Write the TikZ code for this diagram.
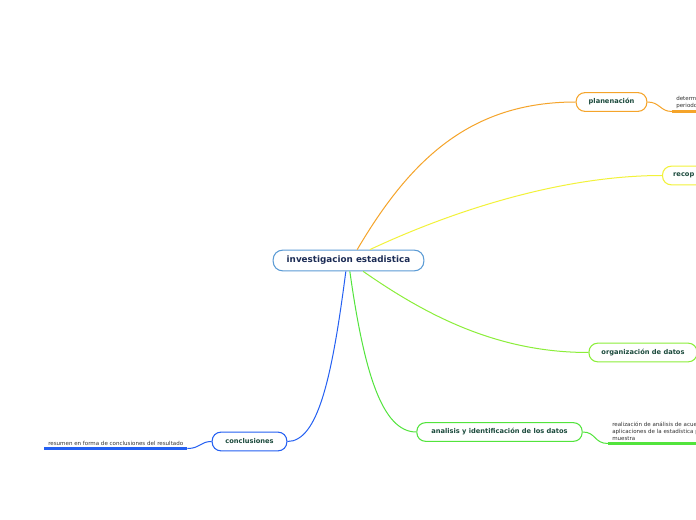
\documentclass[tikz,border=0pt]{standalone}
\usepackage{fontspec}
\setmainfont{DejaVu Sans}
\usepackage{tikz}
\usetikzlibrary{positioning}
\definecolor{rootline}{HTML}{5B9BD5}
\definecolor{rootink}{HTML}{1C2C55}
\definecolor{topink}{HTML}{1B4A3C}
\definecolor{noteink}{HTML}{333333}
\definecolor{cplan}{HTML}{F5A42A}
\definecolor{crecop}{HTML}{F2F23A}
\definecolor{corg}{HTML}{8BEE3A}
\definecolor{cana}{HTML}{52E43C}
\definecolor{cconc}{HTML}{2460F2}
\tikzset{
  root/.style={draw=rootline, line width=0.8pt, rounded corners=7pt, fill=white, text=rootink, font=\fontsize{6.6}{7.5}\selectfont\bfseries, minimum height=15.5pt, inner xsep=0pt},
  topic/.style={draw=#1, line width=0.8pt, rounded corners=6.5pt, fill=white, text=topink, font=\fontsize{5}{6}\selectfont\bfseries, minimum height=14pt, inner xsep=0pt},
  note/.style={anchor=south west, align=left, text=noteink, font=\fontsize{4.15}{5.3}\selectfont, inner xsep=3pt, inner ysep=2pt},
  link/.style={draw=#1, line width=0.75pt},
  uline/.style={draw=#1, line width=1.6pt}
}
\begin{document}
\begin{tikzpicture}[x=0.75pt, y=-0.75pt]
\useasboundingbox (0,0) rectangle (696,520);
\clip (0,0) rectangle (696,520);
\fill[white] (0,0) rectangle (696,520);

% main topics
\node[root, minimum width=113pt] (inv) at (348.5,260.5) {investigacion estadistica};
\node[topic=cplan, minimum width=53pt] (plan) at (611.5,102) {planenación};
\node[topic=crecop, minimum width=70pt, anchor=west, text width=62pt, align=left] (recop) at (662,175.5) {\hspace{4pt}recop};
\node[topic=corg, minimum width=81pt] (org) at (643,352.5) {organización de datos};
\node[topic=cana, minimum width=124pt] (ana) at (499.5,432) {analisis y identificación de los datos};
\node[topic=cconc, minimum width=56pt] (conc) at (249.5,441.5) {conclusiones};

% notes
\node[note] (dplan) at (672,111.5) {determ\\periodo};
\node[note] (dana) at (608,443.5) {realización de análisis de acue\\aplicaciones de la estadística p\\muestra};
\node[note] (dconc) at (44,448.5) {resumen en forma de conclusiones del resultado};

% branches
\draw[link=cplan] ([xshift=6.5pt]inv.north) .. controls (410,160) and (470,102) .. (plan.west);
\draw[link=crecop] ([xshift=16pt]inv.north) .. controls (450,212) and (560,175.5) .. (recop.west);
\draw[link=corg] ([xshift=11pt]inv.south) .. controls (430,318) and (500,352.5) .. (org.west);
\draw[link=cana] ([xshift=1pt]inv.south) .. controls (364,372) and (382,432) .. (ana.west);
\draw[link=cconc] ([xshift=-2pt]inv.south) .. controls (332,378) and (318,441.5) .. (conc.east);

% notes links
\draw[link=cplan] (plan.east) .. controls (660,102) and (660,111.5) .. (dplan.south west);
\draw[uline=cplan] (dplan.south west) -- ++(40,0);
\draw[link=cana] (ana.east) .. controls (596,432) and (594,443.5) .. (dana.south west);
\draw[uline=cana] (dana.south west) -- ++(100,0);
\draw[link=cconc] (conc.west) .. controls (200,441.5) and (200,448.5) .. (dconc.south east);
\draw[uline=cconc] (dconc.south east) -- (dconc.south west);
\end{tikzpicture}
\end{document}
